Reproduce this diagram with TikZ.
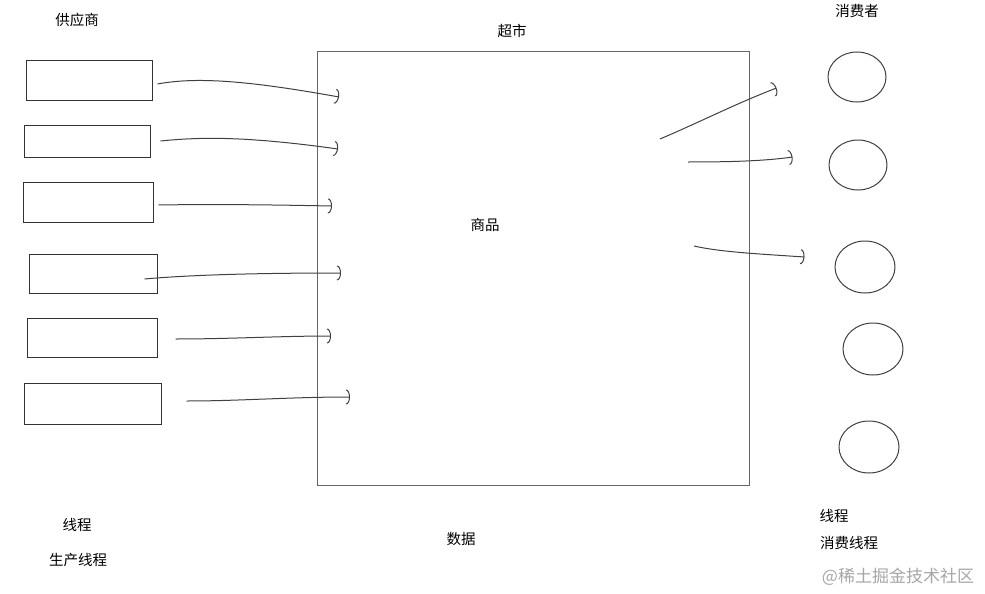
\documentclass[tikz,border=0pt]{standalone}
\usepackage{fontspec}
\newfontfamily\cjk{Noto Sans CJK SC}
\usetikzlibrary{shapes.geometric, arrows.meta, positioning, calc}

\begin{document}
\begin{tikzpicture}[
    x=1pt, y=-1pt,
    supbox/.style={rectangle, draw=black!80, line width=1pt, inner sep=0pt},
    marketbox/.style={rectangle, draw=black!60, line width=1pt, inner sep=0pt},
    conbox/.style={ellipse, draw=black!75, line width=1pt, inner sep=0pt},
    lbl/.style={font=\cjk\fontsize{14.5}{16}\selectfont, text=black, inner sep=0pt},
    wmark/.style={font=\cjk\fontsize{17}{19}\selectfont, text=black!35, inner sep=0pt},
    hand/.style={-{Arc Barb[length=4pt, width=15pt]}, line width=1pt, black!75}
]
\useasboundingbox (0,0) rectangle (985,594);

% Supplier boxes (left)
\node[supbox, minimum width=126, minimum height=39] (sup1) at (89,80.5) {};
\node[supbox, minimum width=126, minimum height=32] (sup2) at (87,141) {};
\node[supbox, minimum width=130, minimum height=40] (sup3) at (88,202) {};
\node[supbox, minimum width=128, minimum height=39] (sup4) at (93,273.5) {};
\node[supbox, minimum width=130, minimum height=39] (sup5) at (92,337.5) {};
\node[supbox, minimum width=137, minimum height=41] (sup6) at (92.5,403.5) {};

% Supermarket
\node[marketbox, minimum width=432, minimum height=433] (market) at (533,268.5) {};

% Consumer circles (right)
\node[conbox, minimum width=58, minimum height=50] (con1) at (857,77) {};
\node[conbox, minimum width=58, minimum height=50] (con2) at (858,165) {};
\node[conbox, minimum width=60, minimum height=52] (con3) at (865,267) {};
\node[conbox, minimum width=60, minimum height=52] (con4) at (873,349) {};
\node[conbox, minimum width=60, minimum height=52] (con5) at (869,447) {};

% Free ends of the producer strokes
\coordinate (in1) at (339,97);
\coordinate (in2) at (338,149);
\coordinate (in3) at (332,206);
\coordinate (in4) at (341,273);
\coordinate (in5) at (331,336);
\coordinate (in6) at (350,397);

% Producer strokes
\draw[hand] ([xshift=5]sup1.east |- 0,84) .. controls (195,77) and (245,80) .. (in1);
\draw[hand] ([xshift=10]sup2.east |- 0,141) .. controls (200,137) and (245,136) .. (in2);
\draw[hand] ([xshift=5]sup3.east |- 0,205) .. controls (220,204) and (280,205) .. (in3);
\draw[hand] ([xshift=-13]sup4.east |- 0,279) .. controls (200,274) and (280,273) .. (in4);
\draw[hand] ([xshift=18]sup5.east |- 0,339) .. controls (230,339) and (280,336) .. (in5);
\draw[hand] ([xshift=25]sup6.east |- 0,401) .. controls (240,401) and (290,397) .. (in6);

% Consumer strokes
\coordinate (out1) at (660,139);
\coordinate (out2) at (688,162);
\coordinate (out3) at (694,246);
\draw[hand] (out1) .. controls (700,122) and (735,104) .. ([xshift=-51]con1.west |- 0,88);
\draw[hand] (out2) .. controls (730,162) and (765,161) .. ([xshift=-36]con2.west |- 0,157);
\draw[hand] (out3) .. controls (720,252) and (760,254) .. ([xshift=-30]con3.west |- 0,257);

% Labels
\node[lbl] (suplbl) at (77,20) {供应商};
\node[lbl] (marketlbl) at (512,31) {超市};
\node[lbl] (goods) at (485,225) {商品};
\node[lbl] (data) at (461,539) {数据};
\node[lbl] (conlbl) at (857,11) {消费者};
\node[lbl] (thr1) at (77,525) {线程};
\node[lbl] (prodthr) at (78,560) {生产线程};
\node[lbl] (thr2) at (834,516) {线程};
\node[lbl] (conthr) at (849,543) {消费线程};
\node[wmark] (wm) at (898,577) {@稀土掘金技术社区};

\end{tikzpicture}
\end{document}
